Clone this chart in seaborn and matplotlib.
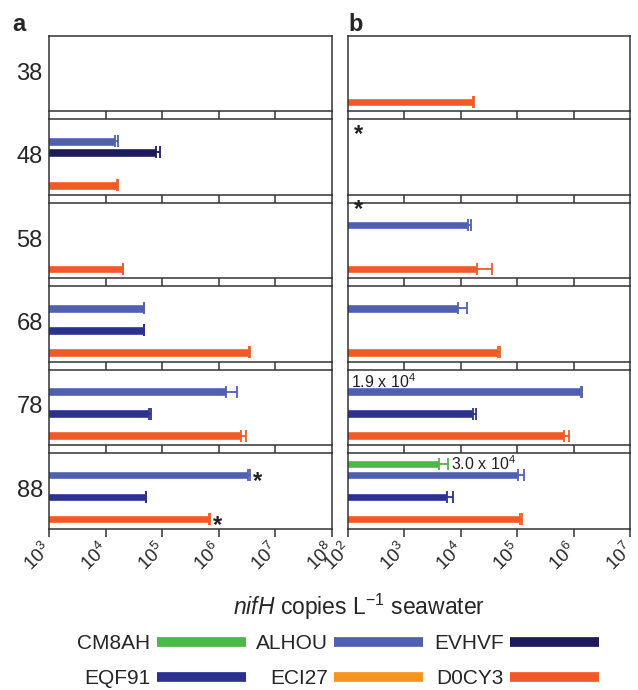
import numpy as np
import pandas as pd
import matplotlib
matplotlib.use('Agg')
import matplotlib.pyplot as plt
import seaborn as sns
from matplotlib.lines import Line2D
from matplotlib.ticker import FixedLocator, NullLocator
from matplotlib.transforms import ScaledTranslation

# depths (rows) and probes (bar slots, top to bottom)
depths = [38, 48, 58, 68, 78, 88]
probes = ['CM8AH', 'ALHOU', 'EVHVF', 'EQF91', 'ECI27', 'D0CY3']
colors = ['#4cb848', '#5060b0', '#1f1a5a', '#2b3190', '#f7941e', '#f15a26']

nan = np.nan

# panel a, nifH copies per litre (mean and sd), one entry per depth
a_alhou = [nan, 1.48e4, nan, 4.68e4, 1.35e6, 3.31e6]
a_alhou_sd = [nan, 1.8e3, nan, 1.1e3, 7.4e5, 3.2e5]
a_evhvf = [nan, 7.76e4, nan, nan, nan, nan]
a_evhvf_sd = [nan, 1.57e4, nan, nan, nan, nan]
a_eqf91 = [nan, nan, nan, 4.68e4, 5.89e4, 5.13e4]
a_eqf91_sd = [nan, nan, nan, 1.1e3, 4.2e3, 1.2e3]
a_d0cy3 = [nan, 1.58e4, 2.0e4, 3.47e6, 2.45e6, 6.76e5]
a_d0cy3_sd = [nan, 8e2, 5e2, 1.6e5, 5.7e5, 1.6e4]

# panel b
b_cm8ah = [nan, nan, nan, nan, nan, 4.07e3]
b_cm8ah_sd = [nan, nan, nan, nan, nan, 1.96e3]
b_alhou = [nan, nan, 1.35e4, 9.1e3, 1.35e6, 1.05e5]
b_alhou_sd = [nan, nan, 1.6e3, 3.8e3, 6e4, 2.7e4]
b_eqf91 = [nan, nan, nan, nan, 1.62e4, 5.6e3]
b_eqf91_sd = [nan, nan, nan, nan, 2.4e3, 1.6e3]
b_d0cy3 = [1.62e4, nan, 1.95e4, 4.57e4, 6.76e5, 1.12e5]
b_d0cy3_sd = [1.2e3, nan, 1.6e4, 3.3e3, 1.37e5, 1.1e4]

xlims = {'a': (1e3, 1e8), 'b': (1e2, 1e7)}
decades = {'a': [3, 4, 5, 6, 7, 8], 'b': [2, 3, 4, 5, 6, 7]}

rows = []
def add(panel, probe, vals, sds):
    for d, v, s in zip(depths, vals, sds):
        if not np.isnan(v):
            rows.append(dict(panel=panel, depth=d, probe=probe, copies=v, sd=s))

add('a', 'ALHOU', a_alhou, a_alhou_sd)
add('a', 'EVHVF', a_evhvf, a_evhvf_sd)
add('a', 'EQF91', a_eqf91, a_eqf91_sd)
add('a', 'D0CY3', a_d0cy3, a_d0cy3_sd)
add('b', 'CM8AH', b_cm8ah, b_cm8ah_sd)
add('b', 'ALHOU', b_alhou, b_alhou_sd)
add('b', 'EQF91', b_eqf91, b_eqf91_sd)
add('b', 'D0CY3', b_d0cy3, b_d0cy3_sd)
df = pd.DataFrame(rows)

pal = dict(zip(probes, colors))

sns.set_style('white')
plt.rcParams['font.family'] = ['Liberation Sans', 'DejaVu Sans']
plt.rcParams['mathtext.fontset'] = 'custom'
plt.rcParams['mathtext.rm'] = 'Liberation Sans'
plt.rcParams['mathtext.it'] = 'Liberation Sans:italic'
plt.rcParams['mathtext.default'] = 'regular'

fig, axes = plt.subplots(6, 2, figsize=(6.38, 6.9), dpi=100,
                         gridspec_kw=dict(width_ratios=[283, 282], wspace=0.0566, hspace=0.106))
fig.subplots_adjust(left=49/638, right=630/638, top=1-36/690, bottom=1-528.5/690)

for j, panel in enumerate(['a', 'b']):
    for i, depth in enumerate(depths):
        ax = axes[i, j]
        sub = df[(df.panel == panel) & (df.depth == depth)]
        if len(sub):
            sns.barplot(data=sub, x='copies', y='probe', hue='probe', order=probes,
                        hue_order=probes, palette=pal, orient='h', width=0.78, saturation=1,
                        errorbar=None, legend=False, ax=ax)
            for _, r in sub.iterrows():
                ax.errorbar(r.copies, probes.index(r.probe), xerr=[[0], [r.sd]], fmt='none',
                            ecolor=pal[r.probe], elinewidth=1.3, capsize=4.5, capthick=1.3)
        ax.set_xscale('log')
        ax.set_xlim(*xlims[panel])
        ax.set_ylim(5.86, -1)
        ax.set_yticks([])
        ax.set_xlabel('')
        ax.set_ylabel('')
        ax.xaxis.set_major_locator(FixedLocator([10.0**e for e in decades[panel]]))
        ax.xaxis.set_minor_locator(NullLocator())
        ax.tick_params(axis='x', direction='out', length=5.8, width=1.1, color='#333333',
                       bottom=True, labelbottom=(i == 5), pad=2)
        for sp in ax.spines.values():
            sp.set_color('#333333')
            sp.set_linewidth(1.1)
        if i == 5:
            ax.set_xticklabels([f'$10^{{{e}}}$' for e in decades[panel]], rotation=45,
                               ha='right', fontsize=13.5)
            for lbl in ax.get_xticklabels():
                lbl.set_transform(lbl.get_transform() + ScaledTranslation(5/72, 0, fig.dpi_scale_trans))
        if panel == 'a':
            ax.annotate(str(depth), xy=(0, 0.5), xycoords='axes fraction', xytext=(-4.5, 0),
                        textcoords='offset points', ha='right', va='center', fontsize=17)

star = dict(fontsize=17, fontweight='bold', color='#231f20', ha='left', va='center')
# asterisks in panel a, row 88
ax = axes[5, 0]
ax.annotate('*', xy=(a_alhou[5] + a_alhou_sd[5], 1), xytext=(2, -5), textcoords='offset points', **star)
ax.annotate('*', xy=(a_d0cy3[5] + a_d0cy3_sd[5], 5), xytext=(2, -5), textcoords='offset points', **star)
# asterisks in panel b
axes[1, 1].annotate('*', xy=(1.3e2, 0.4), **star)
axes[2, 1].annotate('*', xy=(1.3e2, -0.35), **star)
# value notes in panel b
axes[4, 1].text(1.12e2, 0.09, '1.9 x 10$^{4}$', fontsize=11.5, ha='left', va='center', color='#231f20')
axes[5, 1].annotate('3.0 x 10$^{4}$', xy=(b_cm8ah[5] + b_cm8ah_sd[5], 0), xytext=(2, 0),
                    textcoords='offset points', fontsize=11.5, ha='left', va='center', color='#231f20')

fig.text(12/638, 1-31/690, 'a', fontsize=17, fontweight='bold', ha='left', va='baseline')
fig.text(348/638, 1-31/690, 'b', fontsize=17, fontweight='bold', ha='left', va='baseline')

fig.text(359/638, 1-607/690, '$\\it{nifH}$ copies L$^{-1}$ seawater', fontsize=16.5,
         ha='center', va='center')

order = ['CM8AH', 'EQF91', 'ALHOU', 'ECI27', 'EVHVF', 'D0CY3']
handles = [Line2D([], [], color=pal[p], lw=7, solid_capstyle='butt') for p in order]
fig.legend(handles, order, ncol=3, markerfirst=False, frameon=False, fontsize=15,
           handlelength=4.27, handletextpad=0.3, columnspacing=0.5, labelspacing=0.75,
           borderpad=0.2, loc='center', bbox_to_anchor=(338/638, 1-661/690))

fig.savefig('out.png', dpi=100)
